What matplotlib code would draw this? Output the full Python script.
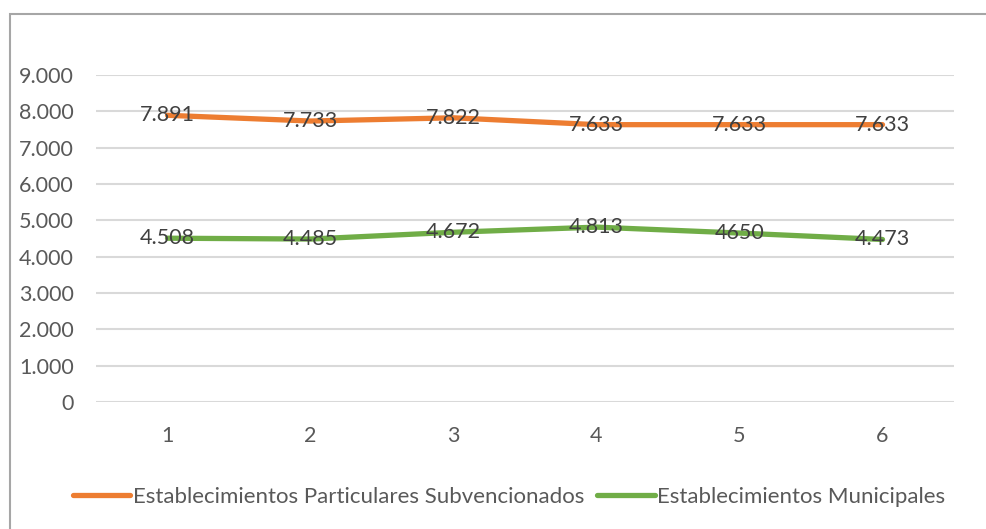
import matplotlib.pyplot as plt
from matplotlib.patches import Rectangle
from matplotlib.ticker import FuncFormatter

# datos por año (1..6)
periodos = [1, 2, 3, 4, 5, 6]
particulares = [7891, 7733, 7822, 7633, 7633, 7633]
municipales = [4508, 4485, 4672, 4813, 4650, 4473]
etiquetas_part = ["7.891", "7.733", "7.822", "7.633", "7.633", "7.633"]
etiquetas_mun = ["4.508", "4.485", "4.672", "4.813", "4650", "4.473"]

naranjo = "#ED7D31"
verde = "#70AD47"

plt.rcParams['font.family'] = ['Lato', 'DejaVu Sans']

fig = plt.figure(figsize=(9.87, 5.29), dpi=100)
ax = fig.add_axes([96 / 987, 1 - 402 / 529, 858 / 987, 327 / 529])

# marco del gráfico
fig.patches.append(Rectangle((10 / 987, -0.1), 1.2, 1 - 14 / 529 + 0.1,
                             transform=fig.transFigure, fill=False,
                             edgecolor="#A6A6A6", linewidth=1.5))

ax.plot(periodos, particulares, color=naranjo, linewidth=3.8,
        solid_capstyle="round", label="Establecimientos Particulares Subvencionados")
ax.plot(periodos, municipales, color=verde, linewidth=3.8,
        solid_capstyle="round", label="Establecimientos Municipales")

for x, y, t in zip(periodos, particulares, etiquetas_part):
    ax.text(x, y, t, ha="center", va="center", fontsize=15.5, color="#404040")
for x, y, t in zip(periodos, municipales, etiquetas_mun):
    ax.text(x, y, t, ha="center", va="center", fontsize=15.5, color="#404040")

ax.set_xlim(0.5, 6.5)
ax.set_ylim(0, 9000)
ax.set_yticks(range(0, 9001, 1000))
ax.yaxis.set_major_formatter(FuncFormatter(lambda v, p: f"{int(v):,}".replace(",", ".")))
ax.set_xticks(periodos)
ax.grid(axis="y", color="#D9D9D9", linewidth=1.5)
ax.set_axisbelow(True)
for s in ax.spines.values():
    s.set_visible(False)
ax.tick_params(length=0, labelsize=15.5, labelcolor="#595959")
ax.tick_params(axis="y", pad=16)
ax.tick_params(axis="x", pad=17)

fig.legend(loc="center", bbox_to_anchor=(509 / 987, 1 - 497 / 529), ncol=2, frameon=False,
           fontsize=16, handlelength=2.6, handletextpad=0.1, columnspacing=0.6,
           labelcolor="#595959")

fig.savefig("out.png", dpi=100)
